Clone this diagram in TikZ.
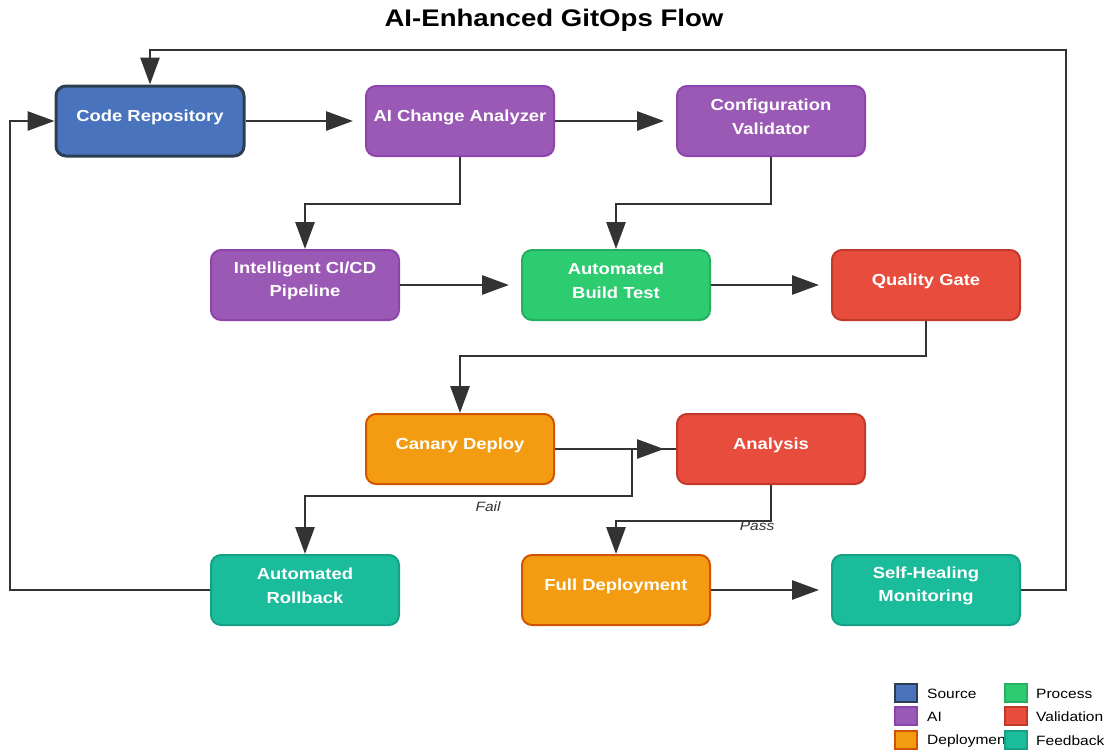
\documentclass[tikz,border=0pt]{standalone}
\usepackage{fontspec}
\setmainfont[FakeStretch=1.15]{Liberation Sans}
\usetikzlibrary{arrows.meta,positioning}
\definecolor{srcblue}{HTML}{4A73BE}
\definecolor{srcline}{HTML}{2C3E50}
\definecolor{aipurple}{HTML}{9B59B6}
\definecolor{ailine}{HTML}{8E44AD}
\definecolor{procgreen}{HTML}{2ECC71}
\definecolor{procline}{HTML}{27AE60}
\definecolor{valred}{HTML}{E74C3C}
\definecolor{valline}{HTML}{C0392B}
\definecolor{deplorange}{HTML}{F39C12}
\definecolor{deplline}{HTML}{D35400}
\definecolor{fbteal}{HTML}{1ABC9C}
\definecolor{fbline}{HTML}{16A085}
\definecolor{linegray}{HTML}{333333}

\begin{document}
\begin{tikzpicture}[x=1pt, y=-1pt,
  box/.style={rounded corners=10pt, minimum width=188pt, minimum height=70pt, line width=2pt},
  txt/.style={text=white, font=\bfseries\fontsize{16}{23.5}\selectfont, align=center, yshift=4pt},
  flow/.style={draw=linegray, line width=2.8pt, -{Triangle[length=27pt,width=19pt]}},
  lbl/.style={font=\itshape\fontsize{13.5}{15}\selectfont, text=linegray, inner sep=1pt},
  swatch/.style={minimum width=22pt, minimum height=18pt, line width=2pt, inner sep=0pt},
  lgtext/.style={font=\fontsize{13.5}{15}\selectfont, anchor=west, inner sep=0pt}]
\useasboundingbox (0,0) rectangle (1108,750);
\node[font=\bfseries\fontsize{24}{28}\selectfont] (title) at (554,20) {AI-Enhanced GitOps Flow};

% row 1
\node[box, fill=srcblue, draw=srcline, line width=3pt, label={[txt]center:Code Repository}] (repo) at (150,121) {};
\node[box, fill=aipurple, draw=ailine, label={[txt]center:AI Change Analyzer}] (analyzer) at (460,121) {};
\node[box, fill=aipurple, draw=ailine, label={[txt]center:Configuration\\Validator}] (validator) at (771,121) {};
% row 2
\node[box, fill=aipurple, draw=ailine, label={[txt]center:Intelligent CI/CD\\Pipeline}] (pipeline) at (305,285) {};
\node[box, fill=procgreen, draw=procline, label={[txt]center:Automated\\Build Test}] (build) at (616,285) {};
\node[box, fill=valred, draw=valline, label={[txt]center:Quality Gate}] (gate) at (926,285) {};
% row 3
\node[box, fill=deplorange, draw=deplline, label={[txt]center:Canary Deploy}] (canary) at (460,449) {};
\node[box, fill=valred, draw=valline, label={[txt]center:Analysis}] (analysis) at (771,449) {};
% row 4
\node[box, fill=fbteal, draw=fbline, label={[txt]center:Automated\\Rollback}] (rollback) at (305,590) {};
\node[box, fill=deplorange, draw=deplline, label={[txt]center:Full Deployment}] (fulldeploy) at (616,590) {};
\node[box, fill=fbteal, draw=fbline, label={[txt]center:Self-Healing\\Monitoring}] (monitor) at (926,590) {};

% connectors
\draw[flow, shorten >=12pt] (repo) -- (analyzer);
\draw[flow, shorten >=12pt] (analyzer) -- (validator);
\draw[flow] (analyzer.south) -- ++(0,47) -| (pipeline.north);
\draw[flow] (validator.south) -- ++(0,47) -| (build.north);
\draw[flow, shorten >=12pt] (pipeline) -- (build);
\draw[flow, shorten >=12pt] (build) -- (gate);
\draw[flow] (gate.south) -- ++(0,35) -| (canary.north);
\draw[flow, shorten >=12pt] (canary) -- (analysis);
\draw[flow] (analysis.west) -- (632,449) -- (632,496) -| node[lbl, below=3pt, pos=0.22] {Fail} (rollback.north);
\draw[flow] (analysis.south) -- ++(0,36) -| node[lbl, below=-2pt, pos=0.045] {Pass} (fulldeploy.north);
\draw[flow, shorten >=12pt] (fulldeploy) -- (monitor);
\draw[flow] (monitor.east) -- (1066,590) -- (1066,50) -| (repo.north);
\draw[flow] (rollback.west) -- (10,590) |- (repo.west);

% legend
\node[swatch, fill=srcblue, draw=srcline] (lgsrc) at (906,693) {};
\node[lgtext] (lgsrct) at (927,694) {Source};
\node[swatch, fill=aipurple, draw=ailine] (lgai) at (906,716) {};
\node[lgtext] (lgait) at (927,717) {AI};
\node[swatch, fill=deplorange, draw=deplline] (lgdepl) at (906,740) {};
\node[lgtext] (lgdeplt) at (927,741) {Deployment};
\node[swatch, fill=procgreen, draw=procline] (lgproc) at (1016,693) {};
\node[lgtext] (lgproct) at (1036,694) {Process};
\node[swatch, fill=valred, draw=valline] (lgval) at (1016,716) {};
\node[lgtext] (lgvalt) at (1036,717) {Validation};
\node[swatch, fill=fbteal, draw=fbline] (lgfb) at (1016,740) {};
\node[lgtext] (lgfbt) at (1036,741) {Feedback};
\end{tikzpicture}
\end{document}
